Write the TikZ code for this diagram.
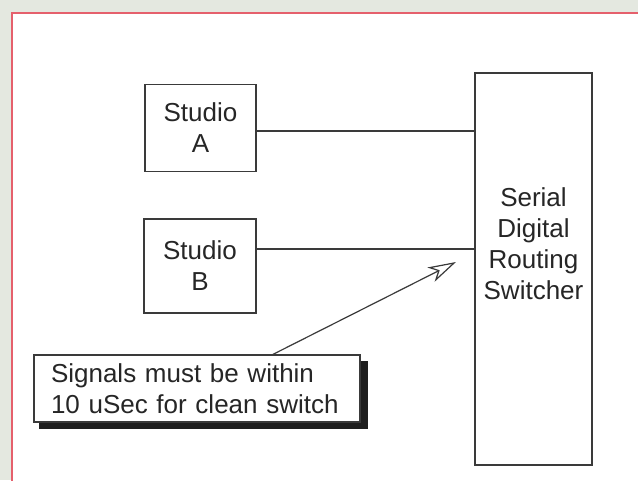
\documentclass[tikz,border=0pt]{standalone}
\usepackage{fontspec}
\setmainfont{Liberation Sans}
\usetikzlibrary{arrows.meta}
\definecolor{bgc}{HTML}{E4E8E0}
\definecolor{framec}{HTML}{E5606C}
\definecolor{linec}{HTML}{3A3A3A}
\begin{document}
\begin{tikzpicture}[x=1pt,y=-1pt,
  box/.style={draw=linec, line width=1.3pt, fill=white, inner sep=0pt, align=center,
    font=\fontsize{26}{31}\selectfont, text=black!85},
  wire/.style={draw=linec, line width=1.2pt},
  txt/.style={inner sep=0pt, align=center, font=\fontsize{26}{31}\selectfont, text=black!85}]
\useasboundingbox (0,0) rectangle (638,480);
\fill[bgc] (0,0) rectangle (638,480);
\draw[framec, line width=2.2pt, fill=white] (12,13) rectangle (650,495);
% Studio boxes
\node[box, minimum width=111pt, minimum height=87pt] (A) at (200.5,128) {Studio\\A};
\node[box, minimum width=112pt, minimum height=94pt] (B) at (200,266) {Studio\\B};
% Switcher
\node[box, minimum width=117pt, minimum height=392pt] (sw) at (533.5,269) {};
\node[txt] (swlabel) at (533.5,244) {Serial\\Digital\\Routing\\Switcher};
% connections
\draw[wire] ([yshift=-3pt]A.east) -- ([yshift=-3pt]A.east -| sw.west);
\draw[wire] ([yshift=17pt]B.east) -- ([yshift=17pt]B.east -| sw.west);
% note
\node[box, minimum width=326pt, minimum height=67pt, align=left, text width=292pt, inner xsep=17pt] (note) at (197,388.5)
  {Signals must be within\\10 uSec for clean switch};
\fill[black!88] ([shift={(0,7)}]note.north east) rectangle ([shift={(7,6)}]note.south east);
\fill[black!88] ([shift={(6,0)}]note.south west) rectangle ([shift={(7,6)}]note.south east);
\draw[draw=linec, line width=1.3pt] (note.north west) rectangle (note.south east);
\coordinate (tip) at (456,262);
\draw[wire, -{Stealth[open, length=28pt, width=16pt, inset=8pt, line width=1.2pt]}] ([xshift=76pt]note.north) -- (tip);
\end{tikzpicture}
\end{document}
